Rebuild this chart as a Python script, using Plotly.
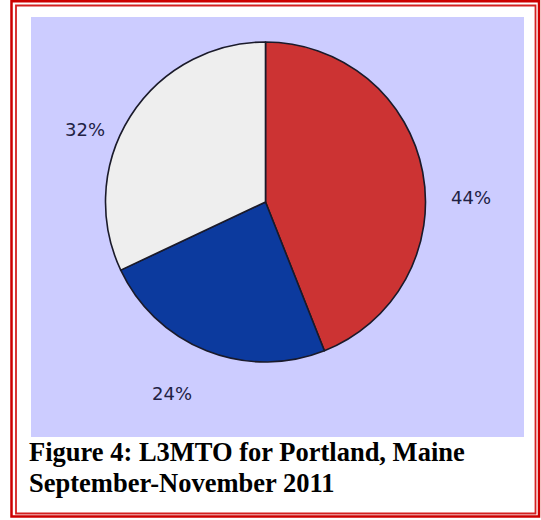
import plotly.graph_objects as go

# ---- data ----
categories = ["Red", "Blue", "White"]
values = [44, 24, 32]
slice_colors = ["#CC3333", "#0C3A9E", "#EEEEEE"]
caption_lines = ["Figure 4: L3MTO for Portland, Maine", "September-November 2011"]

W, H = 541, 520


def px(x):
    return x / W


def py(y):
    return 1 - y / H


fig = go.Figure()
fig.add_trace(go.Pie(
    labels=categories,
    values=values,
    sort=False,
    direction="clockwise",
    rotation=0,
    textinfo="none",
    hoverinfo="label+percent",
    marker=dict(colors=slice_colors, line=dict(color="#1a1a2a", width=1.6)),
    domain=dict(x=[px(105.5), px(425.5)], y=[py(362), py(42)]),
    showlegend=False,
))

shapes = [
    # lavender chart background
    dict(type="rect", xref="paper", yref="paper", x0=px(31), x1=px(524), y0=py(437), y1=py(17),
         fillcolor="#CCCCFF", line=dict(width=0), layer="below"),
    # outer red border
    dict(type="rect", xref="paper", yref="paper", x0=px(11.5), x1=px(539), y0=py(516.5), y1=py(1.2),
         line=dict(color="#CC0000", width=2.5), layer="above"),
    # inner red border
    dict(type="rect", xref="paper", yref="paper", x0=px(16), x1=px(535.5), y0=py(513.5), y1=py(5.5),
         line=dict(color="#D42020", width=1.8), layer="above"),
]

# slice labels (text from data)
label_pos = [(471, 197), (172, 393), (85, 129)]
annotations = []
for v, (lx, ly) in zip(values, label_pos):
    annotations.append(dict(
        x=px(lx), y=py(ly), xref="paper", yref="paper", text=f"{v}%", showarrow=False,
        xanchor="center", yanchor="middle",
        font=dict(family="DejaVu Sans", size=18, color="#222244"),
    ))

cap_y = [452, 483]
for t, cy in zip(caption_lines, cap_y):
    annotations.append(dict(
        x=px(27), y=py(cy), xref="paper", yref="paper", text=f"<b>{t}</b>", showarrow=False,
        xanchor="left", yanchor="middle",
        font=dict(family="Liberation Serif", size=26.5, color="#000000"),
    ))

fig.update_layout(
    width=W, height=H,
    margin=dict(l=0, r=0, t=0, b=0),
    paper_bgcolor="#FFFFFF",
    plot_bgcolor="#FFFFFF",
    shapes=shapes,
    annotations=annotations,
)

fig.write_html(
    "out.html",
    config={"displayModeBar": False},
    post_script="document.body.style.margin='0';document.body.style.overflow='hidden';",
)
